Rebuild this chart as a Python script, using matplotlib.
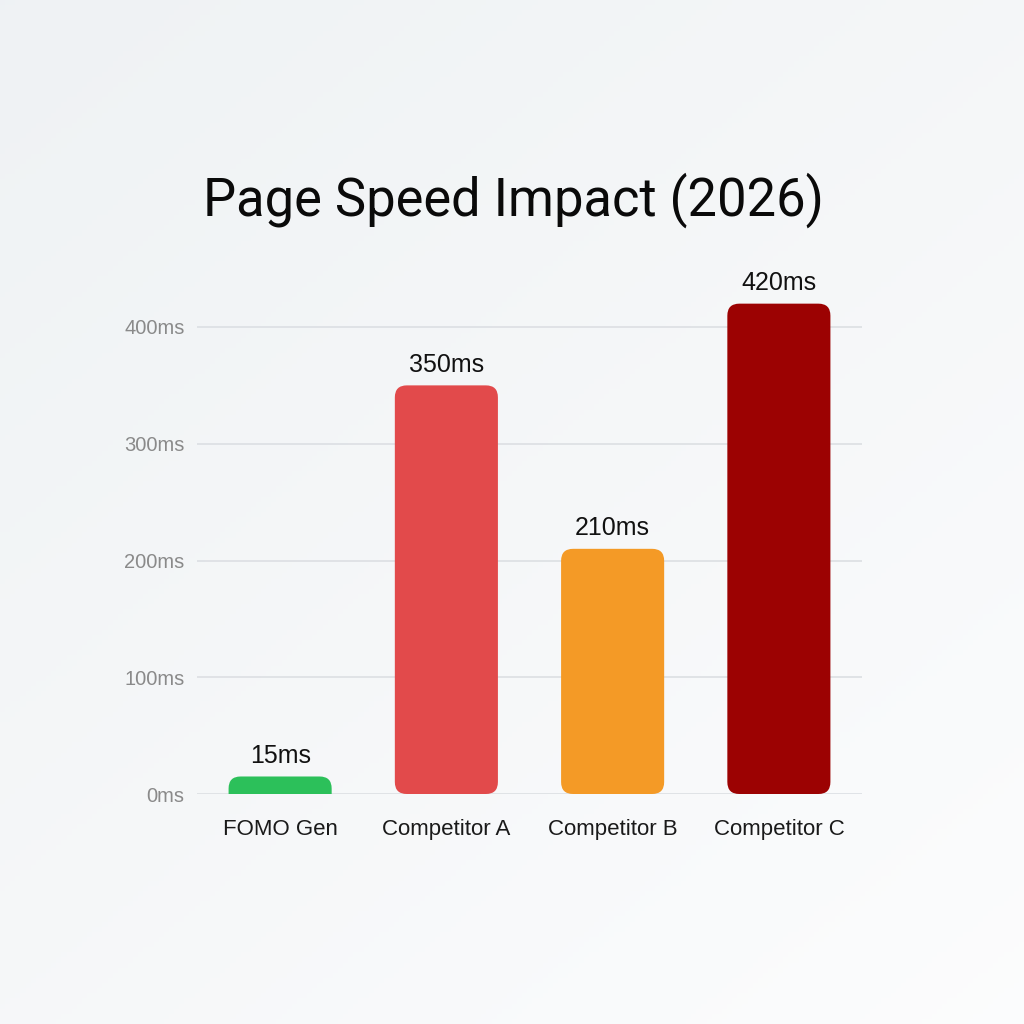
import matplotlib
matplotlib.use("Agg")
import matplotlib.pyplot as plt
import numpy as np
from matplotlib.patches import FancyBboxPatch

categories = ["FOMO Gen", "Competitor A", "Competitor B", "Competitor C"]
values = [15, 350, 210, 420]
value_labels = ["15ms", "350ms", "210ms", "420ms"]
colors = ["#2cc05a", "#e24a4b", "#f49a26", "#9c0202"]
yticks = [0, 100, 200, 300, 400]
ytick_labels = ["0ms", "100ms", "200ms", "300ms", "400ms"]
title = "Page Speed Impact (2026)"

plt.rcParams['font.family'] = ['Liberation Sans', 'DejaVu Sans']

W = H = 1024
fig = plt.figure(figsize=(10.24, 10.24), dpi=100)

# background gradient
bg = fig.add_axes([0, 0, 1, 1], zorder=-10)
yy, xx = np.mgrid[0:1:200j, 0:1:200j]
t = 0.55 * (1 - yy) + 0.45 * xx
c1 = np.array([0.937, 0.949, 0.957])
c2 = np.array([0.988, 0.990, 0.993])
img = c1[None, None, :] * (1 - t[..., None]) + c2[None, None, :] * t[..., None]
bg.imshow(img, extent=[0, 1, 0, 1], origin="lower", aspect="auto")
bg.axis("off")

left, right = 197, 862
y0, ymax_val = 794, 440
px_per_ms = (794 - 327) / 400.0
top = y0 - ymax_val * px_per_ms
ax = fig.add_axes([left / W, (H - y0) / H, (right - left) / W, (y0 - top) / H])
ax.set_facecolor("none")
ax.set_xlim(-0.5, len(categories) - 0.5)
ax.set_ylim(0, ymax_val)
for s in ax.spines.values():
    s.set_visible(False)

ax.set_yticks(yticks)
ax.set_yticklabels(ytick_labels)
ax.tick_params(axis="y", length=0, pad=9, labelsize=14.5, labelcolor="#8a8a8a")
ax.yaxis.grid(True, color="#dcdfe3", linewidth=1.2)
ax.set_axisbelow(True)

x = np.arange(len(categories))
ax.set_xticks(x)
ax.set_xticklabels(categories)
ax.tick_params(axis="x", length=0, pad=18, labelsize=16, labelcolor="#1a1a1a")

width = 0.62
px_per_x = (right - left) / len(categories)
r_px = 12
r_x = r_px / px_per_x
aspect = px_per_x / px_per_ms

for xi, v, col, lab in zip(x, values, colors, value_labels):
    bottom = 0 if v * px_per_ms > 3 * r_px else -v
    hgt = v - bottom
    p = FancyBboxPatch((xi - width / 2, bottom), width, hgt,
                       boxstyle=f"round,pad=0,rounding_size={r_x}",
                       mutation_aspect=aspect, facecolor=col,
                       edgecolor="none", zorder=3, clip_on=True)
    ax.add_patch(p)
    ax.annotate(lab, (xi, v), xytext=(0, 6), textcoords="offset points",
                ha="center", va="bottom", fontsize=18, color="#111111")

fig.text(0.501, 1 - 200 / H, title, ha="center", va="center",
         fontsize=37.8, color="#0a0a0a", family=["Roboto", "DejaVu Sans"])

fig.savefig("out.png", dpi=100)
